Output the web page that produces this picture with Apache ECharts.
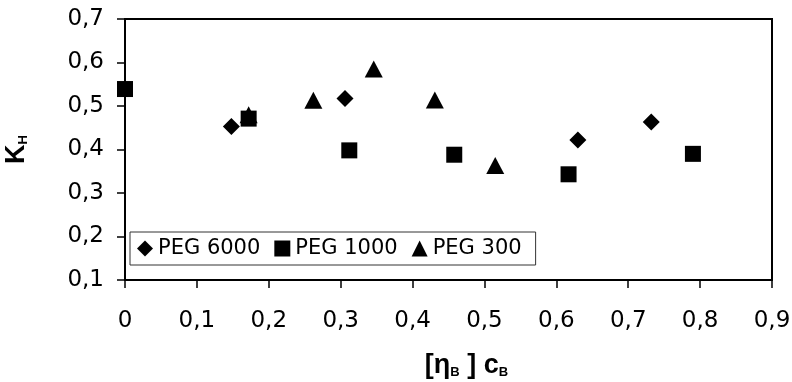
<!DOCTYPE html>
<html>
<head>
<meta charset="utf-8">
<script src="https://cdn.jsdelivr.net/npm/echarts@6/dist/echarts.min.js"></script>
<style>html,body{margin:0;padding:0;background:#fff}#c{width:792px;height:382px}</style>
</head>
<body>
<div id="c"></div>
<script>
var seriesNames = ['PEG 6000', 'PEG 1000', 'PEG 300'];
var peg6000 = [[0.148, 0.453], [0.306, 0.517], [0.630, 0.422], [0.732, 0.463]];
var peg1000 = [[0.0, 0.539], [0.172, 0.471], [0.312, 0.398], [0.458, 0.388], [0.617, 0.343], [0.790, 0.390]];
var peg300 = [[0.172, 0.480], [0.262, 0.513], [0.346, 0.585], [0.431, 0.514], [0.515, 0.363]];
var xTicks = [0, 0.9, 0.1];
var yTicks = [0.1, 0.7, 0.1];

var FONT = '"DejaVu Sans", sans-serif';
var BFONT = '"Liberation Sans", Arial, sans-serif';
function fmt(v) { return v === 0 ? '0' : v.toFixed(1).replace('.', ','); }

var chart = echarts.init(document.getElementById('c'), null, {renderer: 'canvas'});
chart.setOption({
  animation: false,
  backgroundColor: '#fff',
  grid: {left: 125, right: 20, top: 19, bottom: 102, show: true, borderColor: '#000', borderWidth: 2,
         containLabel: false, outerBoundsMode: 'none'},
  legend: {
    left: 130, top: 232, orient: 'horizontal',
    padding: [6, 14, 6, 7], itemGap: 14, itemWidth: 16, itemHeight: 16,
    borderColor: '#333', borderWidth: 1, backgroundColor: '#fff',
    textStyle: {fontFamily: FONT, fontSize: 21, color: '#000'},
    itemStyle: {opacity: 1},
    data: [
      {name: seriesNames[0], icon: 'diamond'},
      {name: seriesNames[1], icon: 'rect'},
      {name: seriesNames[2], icon: 'triangle'}
    ]
  },
  xAxis: {
    type: 'value', min: xTicks[0], max: xTicks[1], interval: xTicks[2],
    splitLine: {show: false},
    axisLine: {show: true, lineStyle: {color: '#000', width: 2}},
    axisTick: {show: true, length: 8, lineStyle: {color: '#000', width: 1.5}},
    axisLabel: {fontFamily: FONT, fontSize: 23, color: '#000', margin: 30, formatter: fmt},
    name: '{a|[η}{s|B}{a| ] c}{s|B}',
    nameLocation: 'middle', nameGap: 72,
    nameTextStyle: {
      padding: [0, 0, 0, 36],
      rich: {
        a: {fontFamily: BFONT, fontSize: 27, fontWeight: 'bold', color: '#000'},
        s: {fontFamily: BFONT, fontSize: 13, fontWeight: 'bold', color: '#000', verticalAlign: 'bottom', padding: [12, 0, 0, 0]}
      }
    }
  },
  yAxis: {
    type: 'value', min: yTicks[0], max: yTicks[1], interval: yTicks[2],
    splitLine: {show: false},
    axisLine: {show: true, lineStyle: {color: '#000', width: 2}},
    axisTick: {show: true, length: 8, lineStyle: {color: '#000', width: 1.5}},
    axisLabel: {fontFamily: FONT, fontSize: 23, color: '#000', margin: 21, formatter: fmt},
    name: '{a|K}{s|H}',
    nameLocation: 'middle', nameGap: 95,
    nameTextStyle: {
      rich: {
        a: {fontFamily: BFONT, fontSize: 27, fontWeight: 'bold', color: '#000'},
        s: {fontFamily: BFONT, fontSize: 13, fontWeight: 'bold', color: '#000', verticalAlign: 'bottom', padding: [12, 0, 0, 0]}
      }
    }
  },
  series: [
    {name: seriesNames[0], type: 'scatter', data: peg6000, symbol: 'diamond', symbolSize: 17, itemStyle: {color: '#000', opacity: 1}},
    {name: seriesNames[2], type: 'scatter', data: peg300, symbol: 'triangle', symbolSize: [18, 17], itemStyle: {color: '#000', opacity: 1}},
    {name: seriesNames[1], type: 'scatter', data: peg1000, symbol: 'rect', symbolSize: 16, itemStyle: {color: '#000', opacity: 1}}
  ]
});
</script>
</body>
</html>
